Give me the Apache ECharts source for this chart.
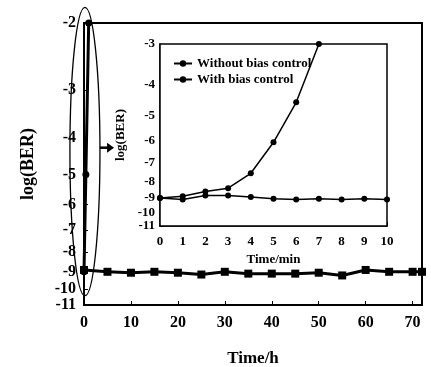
<!DOCTYPE html>
<html>
<head>
<meta charset="utf-8">
<script src="https://cdn.jsdelivr.net/npm/echarts@6/dist/echarts.min.js"></script>
<style>html,body{margin:0;padding:0;background:#fff;}#c{width:431px;height:367px;}</style>
</head>
<body>
<div id="c"></div>
<script>
// ---- data ----
// main chart (hours)
const mainWithTime = [0, 5, 10, 15, 20, 25, 30, 35, 40, 45, 50, 55, 60, 65, 70, 72];
const mainWithBER  = [-8.9, -9.0, -9.05, -9.0, -9.05, -9.15, -9.0, -9.1, -9.1, -9.1, -9.05, -9.2, -8.9, -9.0, -9.0, -9.0];
const mainWithoutTime = [0, 0.4, 1.0];
const mainWithoutBER  = [-9.0, -5.0, -2.0];
const mainXTicks = [0, 10, 20, 30, 40, 50, 60, 70];
const mainYTicks = [-2, -3, -4, -5, -6, -7, -8, -9, -10, -11];
// inset (minutes)
const insetWithoutTime = [0, 1, 2, 3, 4, 5, 6, 7];
const insetWithoutBER  = [-9.0, -8.9, -8.6, -8.4, -7.55, -6.05, -4.55, -3.0];
const insetWithTime = [0, 1, 2, 3, 4, 5, 6, 7, 8, 9, 10];
const insetWithBER  = [-9.0, -9.1, -8.85, -8.85, -8.95, -9.05, -9.1, -9.05, -9.1, -9.05, -9.1];
const insetXTicks = [0, 1, 2, 3, 4, 5, 6, 7, 8, 9, 10];
const insetYTicks = [-3, -4, -5, -6, -7, -8, -9, -10, -11];
const seriesNames = ['Without bias control', 'With bias control'];

// log(BER) is drawn on a logarithmic scale of -log(BER)
const neg = v => -v;
const pairs = (t, v) => t.map((x, i) => [x, neg(v[i])]);
const FONT = 'Liberation Serif';

const chart = echarts.init(document.getElementById('c'), null, {renderer: 'canvas'});

function yAxisCfg(gridIndex, ticks, labelTicks, fs, name, nameGap, nameFs, lw, margin, showLine) {
  const vals = ticks.map(neg);
  return {
    type: 'log', logBase: 10, gridIndex, inverse: true, position: 'left', offset: 0,
    min: Math.min(...vals) * 0.99999, max: Math.max(...vals) * 1.00001,
    name, nameLocation: 'middle', nameRotate: 90, nameGap,
    nameTextStyle: {fontFamily: FONT, fontWeight: 'bold', fontSize: nameFs, color: '#000'},
    axisLine: {show: showLine, lineStyle: {color: '#000', width: lw}},
    axisTick: {show: showLine, inside: true, length: 4, customValues: vals, lineStyle: {color: '#000', width: 1}},
    minorTick: {show: false},
    splitLine: {show: false},
    axisLabel: {customValues: labelTicks.map(neg), margin, showMinLabel: true, showMaxLabel: true, hideOverlap: false,
      fontFamily: FONT, fontWeight: 'bold', fontSize: fs, color: '#000',
      formatter: v => '-' + Math.round(v)}
  };
}
function xAxisCfg(gridIndex, min, max, labels, tickVals, fs, name, nameGap, nameFs, lw, margin) {
  return {
    type: 'value', gridIndex, min, max,
    name, nameLocation: 'middle', nameGap,
    nameTextStyle: {fontFamily: FONT, fontWeight: 'bold', fontSize: nameFs, color: '#000'},
    axisLine: {show: true, onZero: false, lineStyle: {color: '#000', width: lw}},
    axisTick: {show: true, inside: true, length: 4, customValues: tickVals, lineStyle: {color: '#000', width: 1}},
    splitLine: {show: false},
    axisLabel: {customValues: labels, margin, showMinLabel: true, showMaxLabel: true, hideOverlap: false,
      fontFamily: FONT, fontWeight: 'bold', fontSize: fs, color: '#000'}
  };
}

const option = {
  animation: false,
  backgroundColor: '#fff',
  grid: [
    {left: 84, right: 9, top: 23, bottom: 62, show: true, borderColor: '#000', borderWidth: 2, backgroundColor: '#fff',
      outerBoundsMode: 'none', containLabel: false},
    {left: 160, right: 44, top: 44, bottom: 141, show: true, borderColor: '#000', borderWidth: 1.5, backgroundColor: '#fff', z: 5,
      outerBoundsMode: 'none', containLabel: false}
  ],
  xAxis: [
    xAxisCfg(0, 0, 72, mainXTicks, mainXTicks, 16, 'Time/h', 45, 17, 2, 10),
    xAxisCfg(1, 0, 10, insetXTicks, insetXTicks, 13, 'Time/min', 27, 13, 1.5, 9)
  ],
  yAxis: [
    yAxisCfg(0, mainYTicks, mainYTicks.slice(0, -1), 16, 'log(BER)', 47, 18, 2, 8, true),
    yAxisCfg(1, insetYTicks, insetYTicks, 13, 'log(BER)', 24, 13, 1.5, 5, true),
    // lowest main label, kept on its own so that it is not dropped for overlapping its neighbour
    yAxisCfg(0, mainYTicks, mainYTicks.slice(-1), 16, '', 47, 18, 2, 8, false)
  ],
  legend: {
    left: 168, top: 52, orient: 'vertical', itemGap: 3, itemWidth: 18, itemHeight: 8, z: 10,
    data: seriesNames,
    textStyle: {fontFamily: FONT, fontWeight: 'bold', fontSize: 13, color: '#000'}
  },
  series: [
    {name: 'main-with', type: 'line', xAxisIndex: 0, yAxisIndex: 0, data: pairs(mainWithTime, mainWithBER),
      symbol: 'rect', symbolSize: 8, itemStyle: {color: '#000'}, lineStyle: {color: '#000', width: 3}, z: 3},
    {name: 'main-without', type: 'line', xAxisIndex: 0, yAxisIndex: 0, data: pairs(mainWithoutTime, mainWithoutBER),
      symbol: 'circle', symbolSize: 7, itemStyle: {color: '#000'}, lineStyle: {color: '#000', width: 3}, z: 3},
    {name: seriesNames[0], type: 'line', xAxisIndex: 1, yAxisIndex: 1, data: pairs(insetWithoutTime, insetWithoutBER),
      symbol: 'circle', symbolSize: 6, itemStyle: {color: '#000'}, lineStyle: {color: '#000', width: 1.5}, z: 6},
    {name: seriesNames[1], type: 'line', xAxisIndex: 1, yAxisIndex: 1, data: pairs(insetWithTime, insetWithBER),
      symbol: 'circle', symbolSize: 6, itemStyle: {color: '#000'}, lineStyle: {color: '#000', width: 1.5}, z: 6}
  ]
};
chart.setOption(option);

// ellipse + arrow annotation, placed from data coordinates of the main grid
const P = (t, v) => chart.convertToPixel({gridIndex: 0}, [t, neg(v)]);
const eTop = P(0.3, -1.82), eBot = P(0.3, -10.4), eL = P(-3.0, -5), eR = P(3.4, -5);
const aS = P(3.4, -4.25), aE = P(6.4, -4.25);
chart.setOption({
  graphic: [
    {type: 'ellipse', z: 20, silent: true,
      shape: {cx: (eL[0] + eR[0]) / 2, cy: (eTop[1] + eBot[1]) / 2, rx: (eR[0] - eL[0]) / 2, ry: (eBot[1] - eTop[1]) / 2},
      style: {fill: null, stroke: '#000', lineWidth: 1.3}},
    {type: 'line', z: 20, silent: true, shape: {x1: aS[0], y1: aS[1], x2: aE[0] - 5, y2: aE[1]},
      style: {stroke: '#000', lineWidth: 2.5}},
    {type: 'polygon', z: 20, silent: true,
      shape: {points: [[aE[0] - 7, aE[1] - 5], [aE[0], aE[1]], [aE[0] - 7, aE[1] + 5]]},
      style: {fill: '#000'}}
  ]
});
</script>
</body>
</html>
